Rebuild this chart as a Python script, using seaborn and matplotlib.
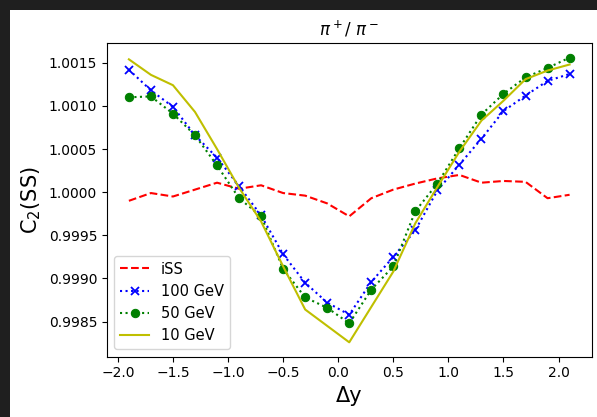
import matplotlib
matplotlib.use("Agg")
import matplotlib.pyplot as plt
import seaborn as sns
import pandas as pd
from matplotlib.patches import Rectangle

# values
dy = [-1.9, -1.7, -1.5, -1.3, -1.1, -0.9, -0.7, -0.5, -0.3, -0.1,
      0.1, 0.3, 0.5, 0.7, 0.9, 1.1, 1.3, 1.5, 1.7, 1.9, 2.1]
iss = [0.99990, 0.99999, 0.99995, 1.00003, 1.00011, 1.00004, 1.00008, 0.99999,
       0.99996, 0.99987, 0.99972, 0.99993, 1.00003, 1.00010, 1.00016, 1.00020,
       1.00011, 1.00013, 1.00012, 0.99993, 0.99997]
gev100 = [1.00142, 1.00118, 1.00099, 1.00066, 1.00040, 1.00007, 0.99973, 0.99928,
          0.99895, 0.99872, 0.99858, 0.99896, 0.99925, 0.99956, 1.00002, 1.00032,
          1.00062, 1.00094, 1.00112, 1.00129, 1.00137]
gev50 = [1.00110, 1.00111, 1.00091, 1.00066, 1.00031, 0.99993, 0.99972, 0.99911,
         0.99878, 0.99866, 0.99848, 0.99887, 0.99914, 0.99978, 1.00010, 1.00051,
         1.00090, 1.00114, 1.00133, 1.00144, 1.00156]
gev10 = [1.00154, 1.00136, 1.00124, 1.00093, 1.00050, 1.00005, 0.99966, 0.99914,
         0.99864, 0.99845, 0.99826, 0.99867, 0.99908, 0.99964, 1.00006, 1.00047,
         1.00083, 1.00106, 1.00131, 1.00141, 1.00148]

df = pd.DataFrame({"dy": dy, "iSS": iss, "100 GeV": gev100,
                   "50 GeV": gev50, "10 GeV": gev10})

fig = plt.figure(figsize=(5.97, 4.17), dpi=100, facecolor="#1f1f1f")
# white page with the dark strip on top and left like the screenshot
fig.patches.append(Rectangle((10 / 597, 0), 1, 407 / 417, transform=fig.transFigure,
                             facecolor="white", edgecolor="none", zorder=-1))
ax = fig.add_axes([0.179, 0.145, 0.812, 0.751])

sns.lineplot(data=df, x="dy", y="iSS", ax=ax, color="r", linestyle="--", label="iSS")
sns.lineplot(data=df, x="dy", y="100 GeV", ax=ax, color="b", linestyle=":",
             marker="x", markeredgecolor="b", markeredgewidth=1.3, label="100 GeV")
sns.lineplot(data=df, x="dy", y="50 GeV", ax=ax, color="g", linestyle=":",
             marker="o", markeredgecolor="g", label="50 GeV")
sns.lineplot(data=df, x="dy", y="10 GeV", ax=ax, color="y", label="10 GeV")

ax.ticklabel_format(axis="y", useOffset=False)
ax.set_xticks([-2.0, -1.5, -1.0, -0.5, 0.0, 0.5, 1.0, 1.5, 2.0])
ax.set_title(r"$\pi^+/\ \pi^-$", fontsize=12)
ax.set_xlabel("Δy", fontsize=15)
ax.set_ylabel("C$_2$(SS)", fontsize=15)
ax.legend(loc="lower left", fontsize=10.5)

fig.savefig("out.png", dpi=100, facecolor=fig.get_facecolor())
